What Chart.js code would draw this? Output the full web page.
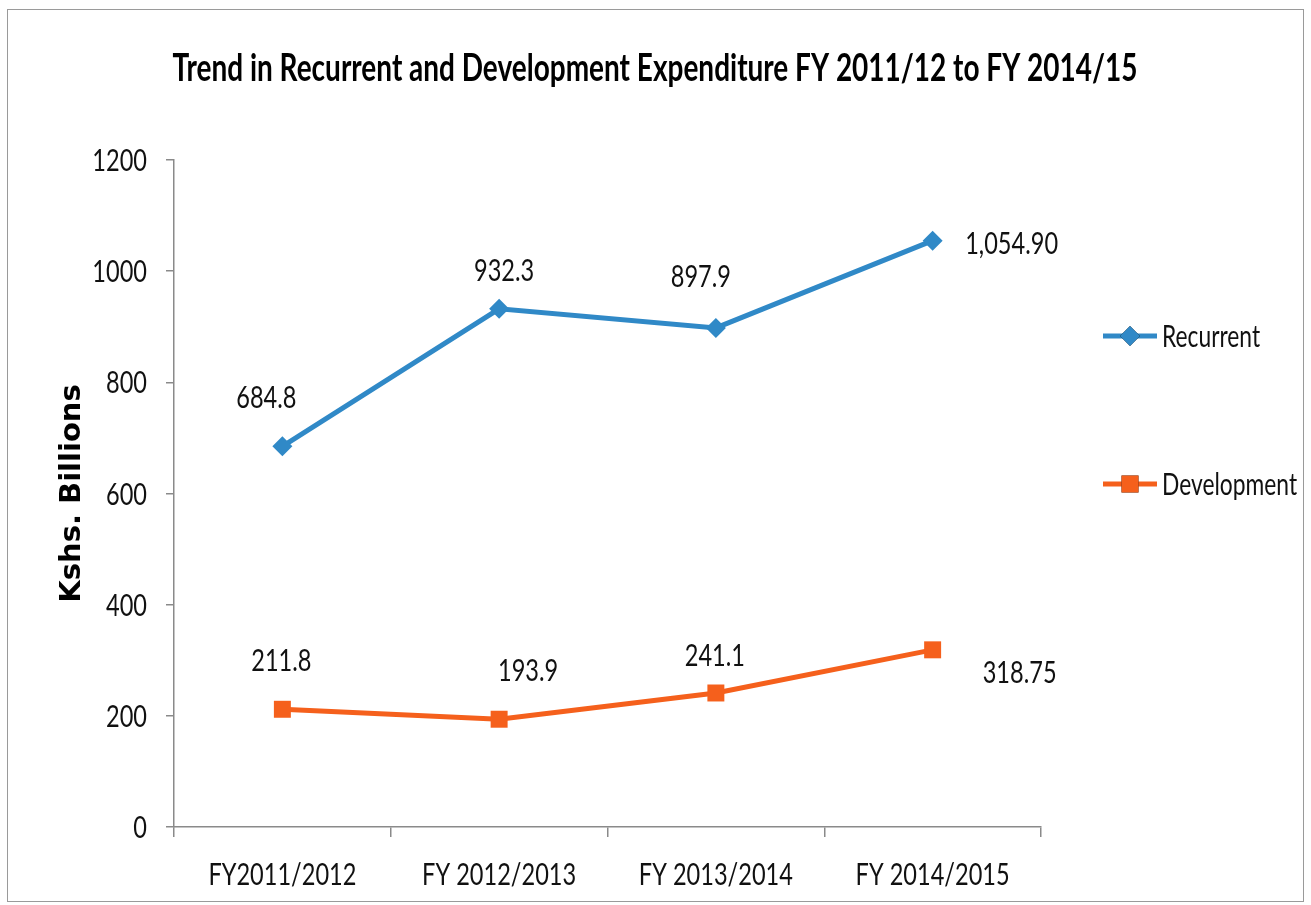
<!DOCTYPE html>
<html>
<head>
<meta charset="utf-8">
<title>Trend in Recurrent and Development Expenditure</title>
<script src="https://cdn.jsdelivr.net/npm/chart.js@4.4.1/dist/chart.umd.min.js"></script>
<style>
  body { margin: 0; background: #fff; }
  #wrap { position: relative; width: 1311px; height: 905px; }
  #frame { position: absolute; left: 7px; top: 9px; width: 1297px; height: 893px; border: 1.5px solid #9a9a9a; box-sizing: border-box; pointer-events: none; }
  canvas { position: absolute; left: 0; top: 0; }
</style>
</head>
<body>
<div id="wrap">
  <canvas id="myChart" width="1311" height="905"></canvas>
  <div id="frame"></div>
</div>
<script>
// data
const titleText = 'Trend in Recurrent and Development Expenditure FY 2011/12 to FY 2014/15';
const years = ['FY2011/2012', 'FY 2012/2013', 'FY 2013/2014', 'FY 2014/2015'];
const recurrent = [684.8, 932.3, 897.9, 1054.9];
const development = [211.8, 193.9, 241.1, 318.75];
const recurrentText = ['684.8', '932.3', '897.9', '1,054.90'];
const developmentText = ['211.8', '193.9', '241.1', '318.75'];
const yTicks = [0, 200, 400, 600, 800, 1000, 1200];

const blue = '#3089c7';
const orange = '#f5601c';
const face = "Lato, 'Open Sans', sans-serif";
const squeeze = 0.76; // the original text is tall and narrow

// draw text squeezed horizontally
function narrowText(ctx, text, x, y, font, align, sx) {
  ctx.save();
  ctx.font = font;
  ctx.textAlign = align;
  ctx.textBaseline = 'alphabetic';
  ctx.translate(x, y);
  ctx.scale(sx || squeeze, 1);
  ctx.fillText(text, 0, 0);
  ctx.restore();
}

// where each value label sits relative to its point
const labelShift = [
  [[-16, -49], [5, -39], [-15, -52], [79, 2]],
  [[-1, -49], [29, -49], [-1, -38], [87, 22]]
];

const valueLabels = {
  id: 'valueLabels',
  afterDatasetsDraw(chart) {
    const ctx = chart.ctx;
    const texts = [recurrentText, developmentText];
    ctx.fillStyle = '#111';
    chart.data.datasets.forEach((ds, i) => {
      chart.getDatasetMeta(i).data.forEach((pt, j) => {
        const s = labelShift[i][j];
        narrowText(ctx, texts[i][j], pt.x + s[0], pt.y + s[1] + 11, '31px ' + face, 'center');
      });
    });
  }
};

// axis labels, title and the legend on the right
const decor = {
  id: 'decor',
  afterDraw(chart) {
    const ctx = chart.ctx;
    const xs = chart.scales.x, ys = chart.scales.y;
    ctx.save();
    ctx.fillStyle = '#111';
    ys.ticks.forEach(t => {
      narrowText(ctx, String(t.value), 147, ys.getPixelForValue(t.value) + 11, '31px ' + face, 'right');
    });
    xs.ticks.forEach((t, i) => {
      narrowText(ctx, years[i], xs.getPixelForTick(i), 885, '31px ' + face, 'center');
    });

    ctx.fillStyle = '#000';
    ctx.font = 'bold 38px ' + face;
    const w = ctx.measureText(titleText).width;
    narrowText(ctx, titleText, 655, 81, 'bold 38px ' + face, 'center', 965 / w);

    const items = [[336, 0], [484, 1]];
    items.forEach(([y, i]) => {
      const ds = chart.data.datasets[i];
      ctx.strokeStyle = ds.borderColor;
      ctx.lineWidth = 5;
      ctx.beginPath();
      ctx.moveTo(1103, y);
      ctx.lineTo(1157, y);
      ctx.stroke();
      Chart.helpers.drawPoint(ctx, {
        pointStyle: ds.pointStyle,
        radius: ds.pointRadius,
        borderWidth: 0
      }, 1130, y);
      ctx.fillStyle = ds.borderColor;
      ctx.fill();
      ctx.fillStyle = '#111';
      narrowText(ctx, ds.label, 1162, y + 11, '30px ' + face, 'left');
    });
    ctx.restore();
  }
};

new Chart(document.getElementById('myChart').getContext('2d'), {
  type: 'line',
  data: {
    labels: years,
    datasets: [{
      label: 'Recurrent',
      data: recurrent,
      borderColor: blue,
      backgroundColor: blue,
      borderWidth: 5,
      pointStyle: 'rectRot',
      pointRadius: 10,
      pointBorderWidth: 0,
      tension: 0
    }, {
      label: 'Development',
      data: development,
      borderColor: orange,
      backgroundColor: orange,
      borderWidth: 5,
      pointStyle: 'rect',
      pointRadius: 12,
      pointBorderWidth: 0,
      tension: 0
    }]
  },
  options: {
    responsive: false,
    animation: false,
    layout: { padding: { left: 0, top: 160, right: 270, bottom: 0 } },
    plugins: {
      legend: { display: false },
      title: { display: false },
      tooltip: { enabled: false }
    },
    scales: {
      x: {
        offset: true,
        afterFit: (scale) => { scale.height = 78; },
        border: { color: '#8a8a8a', width: 1.5 },
        grid: { offset: true, drawOnChartArea: false, tickLength: 10, color: '#8a8a8a', lineWidth: 1.5 },
        ticks: { display: false }
      },
      y: {
        min: 0,
        max: 1200,
        afterFit: (scale) => { scale.width = 174; },
        afterBuildTicks: (scale) => { scale.ticks = yTicks.map(v => ({ value: v })); },
        border: { color: '#8a8a8a', width: 1.5 },
        grid: { drawOnChartArea: false, tickLength: 8, color: '#8a8a8a', lineWidth: 1.5 },
        ticks: { display: false },
        title: {
          display: true,
          text: 'Kshs. Billions',
          color: '#000',
          font: { family: "'DejaVu Sans', sans-serif", size: 29, weight: 'bold' },
          padding: { top: 55, bottom: 0 }
        }
      }
    }
  },
  plugins: [valueLabels, decor]
});
</script>
</body>
</html>
